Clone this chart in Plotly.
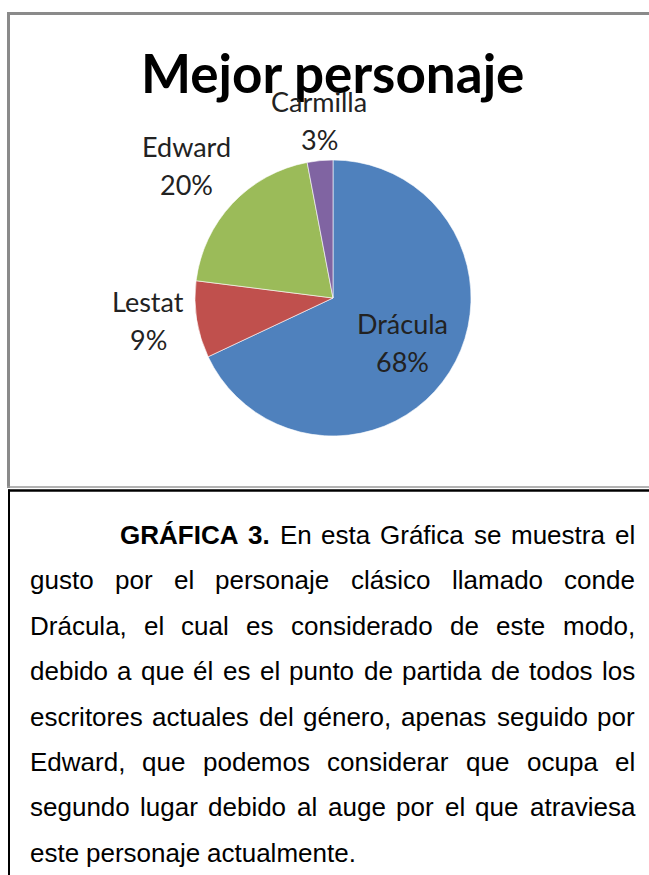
import math
import plotly.graph_objects as go

# ---------------- data ----------------
labels = ["Drácula", "Lestat", "Edward", "Carmilla"]
values = [68, 9, 20, 3]
colors = ["#4F81BD", "#C0504D", "#9BBB59", "#8064A2"]
inside_label = [True, False, False, False]
chart_title = "Mejor personaje"

caption_bold = ["GRÁFICA", "3."]
caption_lines = [
    "En esta Gráfica se muestra el",
    "gusto por el personaje clásico llamado conde",
    "Drácula, el cual es considerado de este modo,",
    "debido a que él es el punto de partida de todos los",
    "escritores actuales del género, apenas seguido por",
    "Edward, que podemos considerar que ocupa el",
    "segundo lugar debido al auge por el que atraviesa",
    "este personaje actualmente.",
]

W, H = 649, 875

# ---------------- Arial / Liberation Sans metrics (1/1000 em) ----------------
REG = dict(zip("abcdefghijklmnopqrstuvwxyz",
               [556, 556, 500, 556, 556, 278, 556, 556, 222, 222, 500, 222, 833,
                556, 556, 556, 556, 333, 500, 278, 556, 500, 722, 500, 500, 500]))
REG.update(dict(zip("ABCDEFGHIJKLMNOPQRSTUVWXYZ",
                    [667, 667, 722, 722, 667, 611, 778, 722, 278, 500, 667, 556, 833,
                     722, 778, 667, 778, 722, 667, 611, 722, 667, 944, 667, 667, 611])))
REG.update({" ": 278, ",": 278, ".": 278, "á": 556, "é": 556, "í": 278, "ó": 556, "ú": 556})
REG.update({d: 556 for d in "0123456789"})
BOLD = {"G": 778, "R": 722, "Á": 722, "F": 611, "I": 278, "C": 722, "A": 722,
        "3": 556, ".": 278, " ": 278}


def width(word, fs, bold=False):
    table = BOLD if bold else REG
    return sum(table.get(c, 556) for c in word) * fs / 1000.0


def px(x):
    return x / W


def py(y):
    return 1 - y / H


FS = 26
LEFT, RIGHT, INDENT = 29.5, 635.0, 120.0
BASE0, LSTEP = 544.0, 45.4

annotations = []

for k, line in enumerate(caption_lines):
    words = [(w, False) for w in line.split(" ")]
    if k == 0:
        words = [(w, True) for w in caption_bold] + words
    x0 = INDENT if k == 0 else LEFT
    widths = [width(w, FS, b) for w, b in words]
    if k < len(caption_lines) - 1:
        gap = (RIGHT - x0 - sum(widths)) / (len(words) - 1)
    else:
        gap = width(" ", FS)
    baseline = BASE0 + LSTEP * k
    x = x0
    for (w, b), wd in zip(words, widths):
        annotations.append(dict(
            text=f"<b>{w}</b>" if b else w,
            x=px(x), y=py(baseline - 0.3465 * FS), xref="paper", yref="paper",
            xanchor="left", yanchor="middle", showarrow=False,
            borderpad=0, borderwidth=0,
            font=dict(family="Liberation Sans, Arial", size=FS, color="#000000"),
        ))
        x += wd + gap

# title
annotations.append(dict(
    text=f"<b>{chart_title}</b>", x=px(332), y=py(73), xref="paper", yref="paper",
    xanchor="center", yanchor="middle", showarrow=False, borderpad=0,
    font=dict(family="Lato", size=53, color="#000000"),
))

# ---------------- pie ----------------
cx, cy, r = 333, 298, 138
LBL_FS = 27
LBL_FONT = dict(family="Lato", size=LBL_FS, color="#222222")
LINE_GAP = 38.0

total = float(sum(values))
cum = 0.0
for lab, v, ins in zip(labels, values, inside_label):
    theta = math.radians(360.0 * (cum + v / 2.0) / total)
    cum += v
    dx, dy = math.sin(theta), -math.cos(theta)
    pct = f"{round(100 * v / total)}%"
    if ins:
        bx, by = cx + dx * 0.6 * r, cy + dy * 0.6 * r
    else:
        hw = 0.25 * LBL_FS * max(len(lab), len(pct))
        hh = (LINE_GAP + LBL_FS) / 2.0
        rr = r + 8
        bx, by = cx + dx * rr, cy + dy * rr
        bx += -hw if dx < -0.3 else (hw if dx > 0.3 else 0)
        by += -hh if dy < -0.3 else (hh if dy > 0.3 else 0)
    for txt, off in ((lab, -LINE_GAP / 2), (pct, LINE_GAP / 2)):
        annotations.append(dict(
            text=txt, x=px(bx), y=py(by + off), xref="paper", yref="paper",
            xanchor="center", yanchor="middle", showarrow=False,
            borderpad=0, font=LBL_FONT,
        ))

fig = go.Figure(go.Pie(
    labels=labels, values=values, sort=False, direction="clockwise", rotation=0,
    marker=dict(colors=colors, line=dict(color="#ffffff", width=0.6)),
    textinfo="none",
    domain=dict(x=[px(cx - r), px(cx + r)], y=[py(cy + r), py(cy - r)]),
    hoverinfo="label+percent", showlegend=False,
))

shapes = [
    # chart frame (gray)
    dict(type="line", xref="paper", yref="paper", x0=px(8.5), x1=px(8.5), y0=py(12), y1=py(488),
         line=dict(color="#8a8a8a", width=3)),
    dict(type="line", xref="paper", yref="paper", x0=px(7), x1=1.02, y0=py(13.5), y1=py(13.5),
         line=dict(color="#8a8a8a", width=3)),
    dict(type="line", xref="paper", yref="paper", x0=px(7), x1=1.02, y0=py(487), y1=py(487),
         line=dict(color="#9a9a9a", width=1.5)),
    # caption box (black)
    dict(type="line", xref="paper", yref="paper", x0=px(8), x1=1.02, y0=py(490.5), y1=py(490.5),
         line=dict(color="#000000", width=2.5)),
    dict(type="line", xref="paper", yref="paper", x0=px(9), x1=px(9), y0=py(489.5), y1=-0.02,
         line=dict(color="#000000", width=2)),
]

fig.update_layout(
    width=W, height=H, margin=dict(l=0, r=0, t=0, b=0),
    paper_bgcolor="#ffffff", plot_bgcolor="#ffffff",
    annotations=annotations, shapes=shapes, showlegend=False,
)

fig.write_html(
    "out.html",
    config={"displayModeBar": False},
    post_script="document.body.style.margin='0';document.body.style.overflow='hidden';",
)
